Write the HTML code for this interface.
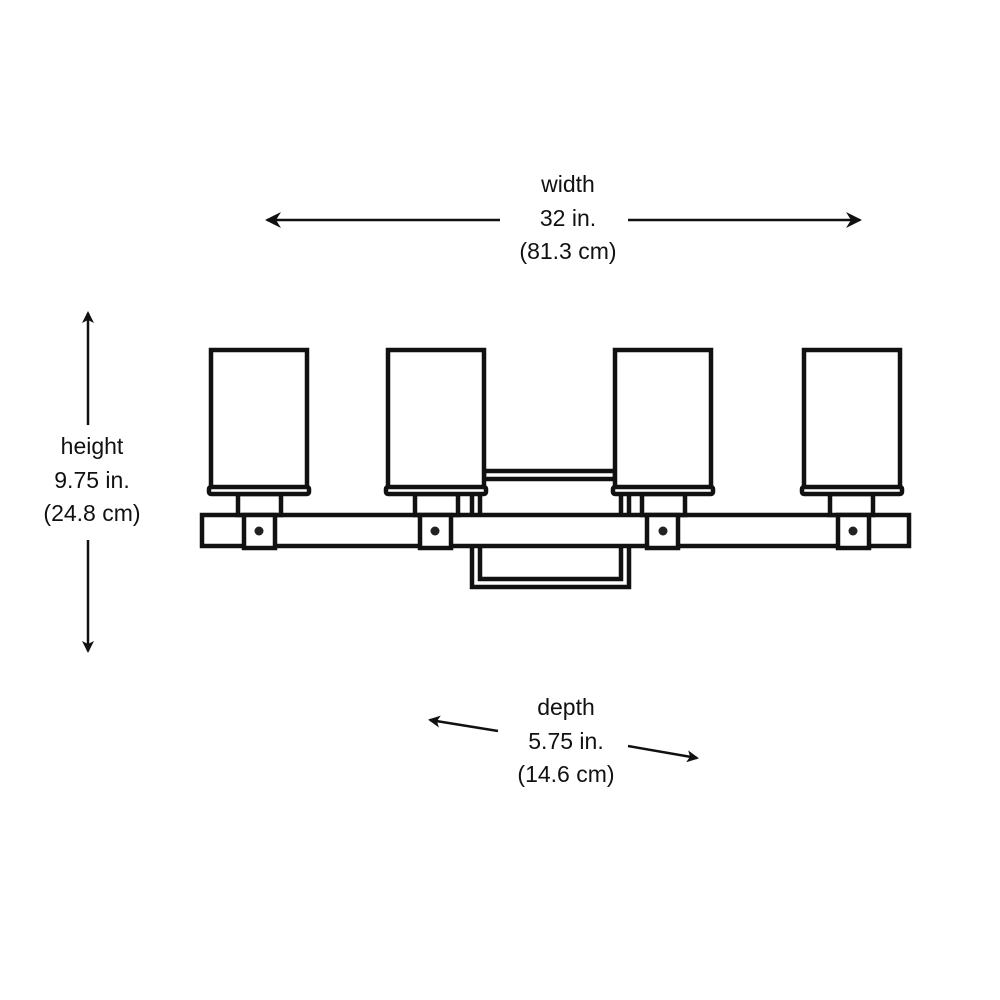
<!DOCTYPE html>
<html><head><style>
body{margin:0;background:#fff}
svg{display:block}
text{font-family:"Liberation Sans",sans-serif;font-size:23px;fill:#111;text-anchor:middle}
</style></head><body>
<svg width="1000" height="1000" viewBox="0 0 1000 1000" xmlns="http://www.w3.org/2000/svg">
<defs><marker id="a" markerWidth="12" markerHeight="12" refX="10" refY="6" orient="auto" markerUnits="userSpaceOnUse" viewBox="0 0 12 12"><path d="M0,0 L12,6 L0,12 L3,6 Z" fill="#111"/></marker>
<marker id="b" markerWidth="16" markerHeight="16" refX="14" refY="8" orient="auto" markerUnits="userSpaceOnUse" viewBox="0 0 16 16"><path d="M0,0 L16,8 L0,16 L5,8 Z" fill="#111"/></marker></defs>
<g stroke="#111" stroke-width="2.5" fill="none">
<line x1="500" y1="220" x2="267" y2="220" marker-end="url(#b)"/>
<line x1="628" y1="220" x2="860" y2="220" marker-end="url(#b)"/>
<line x1="88" y1="425" x2="88" y2="313" marker-end="url(#a)"/>
<line x1="88" y1="540" x2="88" y2="651" marker-end="url(#a)"/>
<line x1="498" y1="731" x2="430" y2="720" marker-end="url(#a)"/>
<line x1="628" y1="746" x2="697" y2="758" marker-end="url(#a)"/>
</g>
<text x="568" y="192">width</text><text x="568" y="226">32 in.</text><text x="568" y="259">(81.3 cm)</text>
<text x="92" y="454">height</text><text x="92" y="488">9.75 in.</text><text x="92" y="521">(24.8 cm)</text>
<text x="566" y="715">depth</text><text x="566" y="749">5.75 in.</text><text x="566" y="782">(14.6 cm)</text>
<g stroke="#111" stroke-width="4.5" fill="none">
<rect x="484" y="471" width="131" height="8" fill="#fff"/>
<path d="M472,494 V587 H629 V494"/>
<path d="M480,494 V579 H621 V494"/>
</g>
<g stroke="#111" stroke-width="4.5" fill="#fff">
<rect x="202" y="515" width="707" height="31"/>
<rect x="238" y="494" width="43" height="21"/>
<rect x="415" y="494" width="43" height="21"/>
<rect x="642" y="494" width="43" height="21"/>
<rect x="830" y="494" width="43" height="21"/>
<rect x="211" y="350" width="96" height="138"/>
<rect x="388" y="350" width="96" height="138"/>
<rect x="615" y="350" width="96" height="138"/>
<rect x="804" y="350" width="96" height="138"/>
<rect x="209" y="487" width="100" height="7" rx="2"/>
<rect x="386" y="487" width="100" height="7" rx="2"/>
<rect x="613" y="487" width="100" height="7" rx="2"/>
<rect x="802" y="487" width="100" height="7" rx="2"/>
<rect x="244" y="515" width="31" height="33"/>
<rect x="420" y="515" width="31" height="33"/>
<rect x="647" y="515" width="31" height="33"/>
<rect x="838" y="515" width="31" height="33"/>
</g>
<g fill="#222">
<circle cx="259" cy="531" r="4.5"/><circle cx="435" cy="531" r="4.5"/><circle cx="663" cy="531" r="4.5"/><circle cx="853" cy="531" r="4.5"/>
</g>
</svg>
</body></html>
